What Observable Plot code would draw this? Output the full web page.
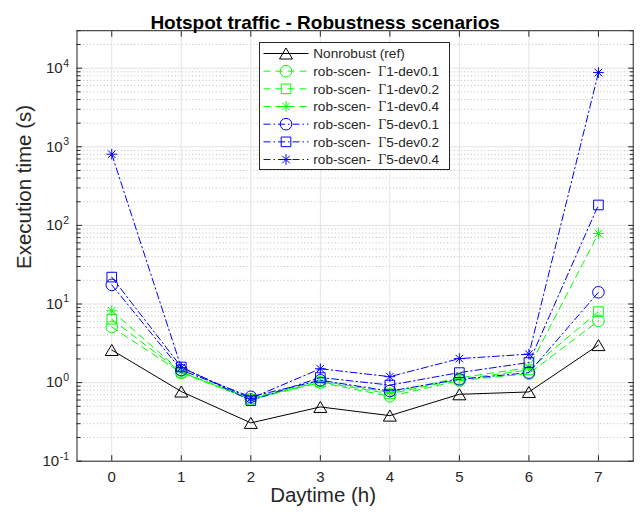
<!DOCTYPE html>
<html><head><meta charset="utf-8">
<script src="https://cdn.jsdelivr.net/npm/d3@7"></script>
<script src="https://cdn.jsdelivr.net/npm/@observablehq/plot@0.6"></script>
<style>
html,body{margin:0;padding:0;background:#fff;}
#chart{width:643px;height:514px;}
</style></head><body><div id="chart"></div>
<script>
// ---- data ----
const hours = [0, 1, 2, 3, 4, 5, 6, 7];
const seriesLabels = [
  "Nonrobust (ref)",
  "rob-scen-  Γ1-dev0.1",
  "rob-scen-  Γ1-dev0.2",
  "rob-scen-  Γ1-dev0.4",
  "rob-scen-  Γ5-dev0.1",
  "rob-scen-  Γ5-dev0.2",
  "rob-scen-  Γ5-dev0.4"
];
const nonrobust = [2.6, 0.77, 0.307, 0.49, 0.38, 0.71, 0.76, 3.0];
const g1dev01 = [5.1, 1.33, 0.61, 1.0, 0.67, 1.06, 1.3, 6.1];
const g1dev02 = [6.4, 1.35, 0.62, 1.02, 0.72, 1.1, 1.45, 8.0];
const g1dev04 = [8.2, 1.37, 0.63, 1.05, 0.75, 1.15, 1.55, 79];
const g5dev01 = [17.5, 1.44, 0.66, 1.07, 0.78, 1.1, 1.34, 14.1];
const g5dev02 = [22, 1.58, 0.59, 1.16, 0.93, 1.34, 1.8, 182];
const g5dev04 = [805, 1.55, 0.63, 1.5, 1.19, 2.02, 2.3, 8800];
const seriesValues = [nonrobust, g1dev01, g1dev02, g1dev04, g5dev01, g5dev02, g5dev04];
const yMajorExponents = [-1, 0, 1, 2, 3, 4];
const titleText = "Hotspot traffic - Robustness scenarios";
const xLabelText = "Daytime (h)";
const yLabelText = "Execution time (s)";

// ---- styles ----
const GREEN = "#00ff00", BLUE = "#0000ff", BLACK = "#000000";
const DASH = "7,5", DASHDOT = "7,3,1.5,3";
const seriesStyles = [
  {color: BLACK, dash: null, sym: "triangle"},
  {color: GREEN, dash: DASH, sym: "circle"},
  {color: GREEN, dash: DASH, sym: "square"},
  {color: GREEN, dash: DASH, sym: "asterisk"},
  {color: BLUE, dash: DASHDOT, sym: "circle"},
  {color: BLUE, dash: DASHDOT, sym: "square"},
  {color: BLUE, dash: DASHDOT, sym: "asterisk"}
];

function makeSymbol(kind) {
  return {
    draw(ctx, size) {
      const r = Math.sqrt(size / Math.PI);
      if (kind === "circle") {
        ctx.moveTo(r, 0); ctx.arc(0, 0, r, 0, 2 * Math.PI); ctx.closePath();
      } else if (kind === "square") {
        const s = 0.83 * r;
        ctx.moveTo(-s, -s); ctx.lineTo(s, -s); ctx.lineTo(s, s); ctx.lineTo(-s, s); ctx.closePath();
      } else if (kind === "triangle") {
        const h = 0.95 * r, w = 1.12 * r;
        ctx.moveTo(0, -h); ctx.lineTo(w, h); ctx.lineTo(-w, h); ctx.closePath();
      } else {
        const a = 0.92 * r, d = a * Math.SQRT1_2;
        ctx.moveTo(0, -a); ctx.lineTo(0, a);
        ctx.moveTo(-a, 0); ctx.lineTo(a, 0);
        ctx.moveTo(-d, -d); ctx.lineTo(d, d);
        ctx.moveTo(-d, d); ctx.lineTo(d, -d);
      }
    }
  };
}
const MR = 5.8;

const rows = seriesLabels.map((name, i) => hours.map((h, j) => ({series: name, hour: h, time: seriesValues[i][j]})));

const yMajor = yMajorExponents.map(k => Math.pow(10, k));
const yMinor = [];
for (const k of yMajorExponents) for (let m = 2; m <= 9; m++) { const v = m * Math.pow(10, k); if (v <= 30000) yMinor.push(v); }

const FRAMEC = "#262626";
const marks = [
  Plot.gridY(yMinor, {stroke: "#bdbdbd", strokeOpacity: 1, strokeDasharray: "1,2.4", strokeWidth: 1}),
  Plot.gridY(yMajor, {stroke: "#e3e3e3", strokeOpacity: 1, strokeWidth: 1}),
  Plot.gridX(hours, {stroke: "#e3e3e3", strokeOpacity: 1, strokeWidth: 1}),
];
rows.forEach((data, i) => {
  const st = seriesStyles[i];
  marks.push(Plot.line(data, {x: "hour", y: "time", stroke: st.color, strokeWidth: 1, strokeDasharray: st.dash}));
  marks.push(Plot.dot(data, {x: "hour", y: "time", stroke: st.color, fill: "none", strokeWidth: 1, r: MR, symbol: makeSymbol(st.sym)}));
});
marks.push(
  Plot.frame({stroke: FRAMEC, strokeWidth: 1}),
  // inward ticks
  Plot.axisY(yMajor, {anchor: "left", tickSize: 5.5, dx: 5.5, tickFormat: () => "", label: null, stroke: FRAMEC}),
  Plot.axisY(yMajor, {anchor: "right", tickSize: 5.5, dx: -5.5, tickFormat: () => "", label: null, stroke: FRAMEC}),
  Plot.axisY(yMinor, {anchor: "left", tickSize: 4, dx: 4, tickFormat: () => "", label: null, stroke: FRAMEC}),
  Plot.axisY(yMinor, {anchor: "right", tickSize: 4, dx: -4, tickFormat: () => "", label: null, stroke: FRAMEC}),
  Plot.axisX(hours, {anchor: "bottom", tickSize: 5.5, dy: -5.5, tickFormat: () => "", label: null, stroke: FRAMEC}),
  Plot.axisX(hours, {anchor: "top", tickSize: 5.5, dy: 5.5, tickFormat: () => "", label: null, stroke: FRAMEC}),
  // labels
  Plot.axisX(hours, {anchor: "bottom", tickSize: 0, tickPadding: 10, fontSize: 15, label: null, tickFormat: d => String(d)}),
  Plot.axisY(yMajor, {anchor: "left", tickSize: 0, tickPadding: 8, fontSize: 15, label: null, tickFormat: d => "10^" + Math.round(Math.log10(d))}),
  Plot.text([xLabelText], {frameAnchor: "bottom", dx: -32, dy: 41, fontSize: 20.5, fill: FRAMEC}),
  Plot.text([yLabelText], {frameAnchor: "left", dx: -52.5, dy: 23, rotate: -90, fontSize: 20.5, fill: FRAMEC}),
  Plot.text([titleText], {frameAnchor: "top", dx: -30, dy: -15.5, fontSize: 19, fontWeight: "bold", fill: "#000"})
);

const svg = Plot.plot({
  width: 643,
  height: 514,
  marginLeft: 76.5,
  marginRight: 10.3,
  marginTop: 30.2,
  marginBottom: 53.3,
  style: {fontFamily: "'Liberation Sans', Arial, sans-serif", fontSize: "15px", color: FRAMEC, background: "white", overflow: "visible"},
  x: {type: "linear", domain: [-0.5, 7.5]},
  y: {type: "log", domain: [0.1, 30000]},
  marks
});
document.getElementById("chart").appendChild(svg);

// superscript exponents on the y tick labels
d3.select(svg).selectAll('g[aria-label="axis tick label"] text, g[aria-label="y-axis tick label"] text').each(function() {
  const t = this.textContent;
  const m = /^10\^(-?\d+)$/.exec(t);
  if (!m) return;
  const sel = d3.select(this);
  sel.text(null);
  sel.append("tspan").text("10");
  sel.append("tspan").attr("dx", 0.5).attr("dy", -6.5).attr("font-size", 10.5).text(m[1]);
});

// legend
const lg = d3.select(svg).append("g").attr("class", "legend").attr("text-anchor", "start");
const LX = 259.5, LY = 42.5, LW = 190, LH = 127, ROW0 = 53.5, ROWH = 17.67;
lg.append("rect").attr("x", LX).attr("y", LY).attr("width", LW).attr("height", LH)
  .attr("fill", "white").attr("stroke", FRAMEC).attr("stroke-width", 1);
seriesLabels.forEach((name, i) => {
  const st = seriesStyles[i];
  const cy = ROW0 + i * ROWH;
  lg.append("line").attr("x1", 263.5).attr("x2", 308.5).attr("y1", cy).attr("y2", cy)
    .attr("stroke", st.color).attr("stroke-width", 1).attr("stroke-dasharray", st.dash);
  lg.append("path").attr("transform", `translate(286,${cy})`)
    .attr("d", d3.symbol(makeSymbol(st.sym), MR * MR * Math.PI)())
    .attr("fill", "none").attr("stroke", st.color).attr("stroke-width", 1);
  const tx = lg.append("text").attr("x", 313.3).attr("y", cy).attr("dy", "0.35em")
    .attr("text-anchor", "start")
    .attr("font-size", 13.6).attr("fill", FRAMEC).style("white-space", "pre");
  const parts = name.split("Γ");
  tx.append("tspan").text(parts[0]);
  if (parts.length > 1) {
    tx.append("tspan").attr("font-family", "'Liberation Serif', 'Times New Roman', serif").text("Γ");
    tx.append("tspan").text(parts[1]);
  }
});
</script>
</body></html>
